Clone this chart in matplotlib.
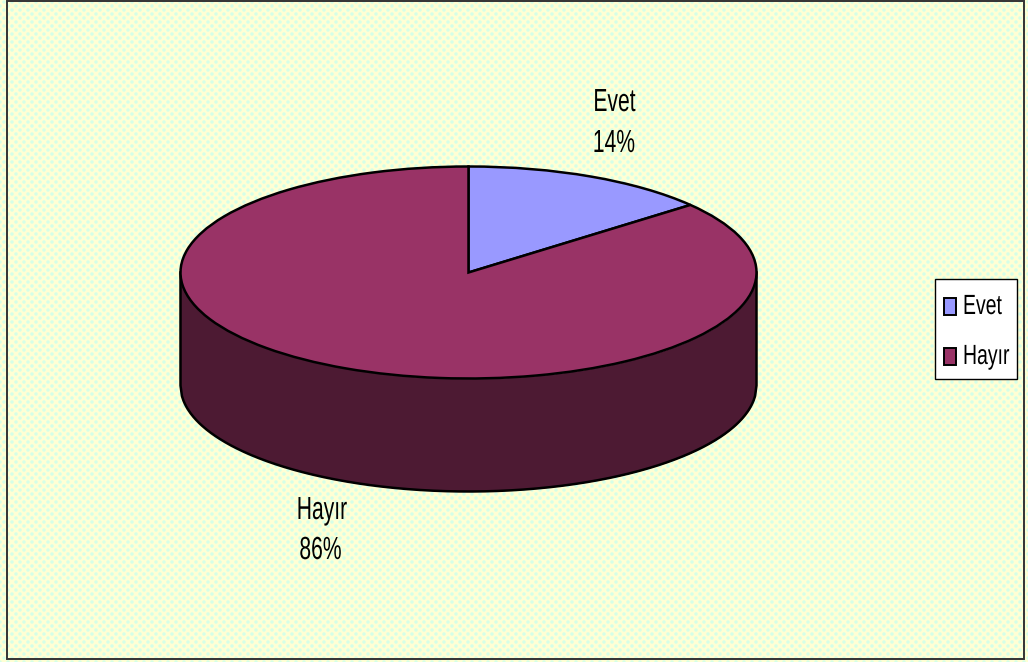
import numpy as np
import matplotlib
matplotlib.use("Agg")
import matplotlib.pyplot as plt
from matplotlib.patches import Rectangle
from matplotlib.patheffects import AbstractPathEffect
from matplotlib.transforms import Affine2D

# Survey answers
categories = ["Evet", "Hayır"]
shares = [14, 86]
top_colors = ["#9999FF", "#993366"]
side_color = "#4D1A33"

W, H = 1028, 662
dpi = 100

plt.rcParams["font.family"] = ["Liberation Sans", "DejaVu Sans"]


class Condense(AbstractPathEffect):
    """Squeeze glyph outlines horizontally about a fixed x position."""

    def __init__(self, x, factor):
        self.x = x
        self.factor = factor

    def draw_path(self, renderer, gc, tpath, affine, rgbFace=None):
        squeeze = (Affine2D().translate(-self.x, 0)
                   .scale(self.factor, 1).translate(self.x, 0))
        renderer.draw_path(gc, tpath, affine + squeeze, rgbFace)


fig = plt.figure(figsize=(W / dpi, H / dpi), dpi=dpi, facecolor="white")

# Paper texture behind the chart: soft staggered dots on cream
bg = fig.add_axes([0, 0, 1, 1], zorder=0)
base = np.array([255, 255, 212]) / 255
dot = np.array([212, 255, 232]) / 255
yy, xx = np.mgrid[0:H, 0:W]
row = (yy // 4) % 2
dx = ((xx + row * 4) % 8) - 3.5
dy = (yy % 4) - 1.5
strength = np.clip(1.25 - (dx ** 2 + dy ** 2) / 4.0, 0, 1)[..., None]
tex = base * (1 - strength) + dot * strength
bg.imshow(tex, extent=(0, W, H, 0), interpolation="nearest", aspect="auto")
bg.set_xlim(0, W)
bg.set_ylim(H, 0)
bg.axis("off")
bg.add_patch(Rectangle((6.5, 0.5), 1017, 658, fill=False, ec="#333333", lw=1.4))

# Tilted pie: a unit pie stretched into an ellipse by the axes limits
cx, cy, rx, ry, depth = 468.5, 272.5, 288, 106, 113
ax = fig.add_axes([0, 0, 1, 1], zorder=1)
ax.patch.set_alpha(0)
ax.pie(shares, colors=top_colors, startangle=90, counterclock=False, radius=1,
       wedgeprops=dict(edgecolor="black", linewidth=1.8, zorder=3))
ax.set_aspect("auto")
ax.set_xlim((0 - cx) / rx, (W - cx) / rx)
ax.set_ylim((cy - H) / ry, cy / ry)

# Rim of the disc, below the near half of the top face
t = np.linspace(-1, 1, 400)
lower = -np.sqrt(1 - t ** 2)
drop = depth / ry
ax.fill_between(t, lower, lower - drop, color=side_color, zorder=2, lw=0)
ax.plot(np.r_[-1, t, 1], np.r_[0, lower - drop, 0], color="black", lw=1.8, zorder=2.5)


def label(x, baseline, s, size, factor, ha="center"):
    # Narrow lettering at full height
    bg.text(x, baseline, s, ha=ha, va="baseline", color="black", fontsize=size,
            path_effects=[Condense(x, factor)])


# Data labels
label(614.5, 111, categories[0], 23, 0.66)
label(614, 152, f"{shares[0]}%", 23, 0.66)
label(322, 519, categories[1], 23, 0.66)
label(320.5, 559, f"{shares[1]}%", 23, 0.66)

# Legend box
bg.add_patch(Rectangle((935, 279), 82, 100, fc="white", ec="black", lw=1.0))
for name, col, y, base_y in zip(categories, top_colors, (298, 348), (314, 364)):
    bg.add_patch(Rectangle((943.5, y), 12, 16.5, fc=col, ec="black", lw=1.4))
    label(963, base_y, name, 20, 0.70, ha="left")

fig.savefig("out.png", dpi=dpi)
